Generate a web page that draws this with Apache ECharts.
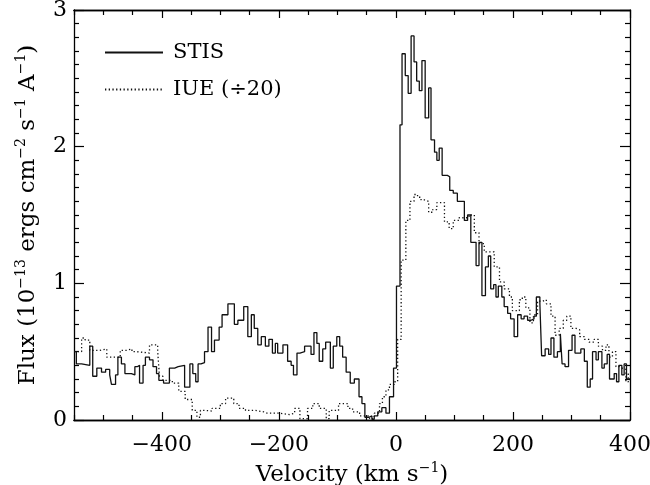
<!DOCTYPE html>
<html>
<head>
<meta charset="utf-8">
<script src="https://cdn.jsdelivr.net/npm/echarts@6/dist/echarts.min.js"></script>
<style>html,body{margin:0;padding:0;background:#fff}#c{width:650px;height:485px}</style>
</head>
<body>
<div id="c"></div>
<script>
// STIS: bin start velocity (km/s) and flux (1e-13 erg cm^-2 s^-1 A^-1)
const stisVel = [-550,-546,-537,-523,-518,-511,-503,-496,-489,-486,-479,-475,-469,-463,-452,-446,-442,-438,-432,-428,-421,-415,-409,-405,-397,-387,-378,-372,-361,-352,-347,-342,-338,-333,-327,-321,-315,-310,-302,-297,-287,-276,-270,-260,-253,-247,-242,-236,-230,-223,-217,-211,-206,-202,
-193,-185,-179,-175,-169,-164,-156,-145,-140,-135,-131,-125,-120,-112,-107,-101,-96,-91,-85,-78,-71,-63,-58,-53,-46,-41,-37,-31,-24,-17,-11,-4,1,7,10.5,16,21,26,31,35.5,40,44.5,50,56,60,66,70,74,79,88,92,98,105,
117,122.5,128,137,142,147,153,158,162,167,171,175,181,185,191,196,202,208,214,219,225,231,236,240,246,249,255,261,265,270,276,281,284,289,295,301,306,316,322,327,332,336,342,346,352,356,361,365,373,377,381,386,390,394,400];
const stisFlux = [0.50,0.41,0.40,0.54,0.32,0.38,0.35,0.37,0.33,0.26,0.33,0.46,0.41,0.34,0.33,0.39,0.40,0.27,0.40,0.46,0.44,0.39,0.34,0.29,0.27,0.38,0.39,0.40,0.24,0.41,0.34,0.28,0.41,0.42,0.50,0.68,0.50,0.585,0.68,0.77,0.85,0.70,0.73,0.83,0.61,0.77,0.67,0.55,0.61,0.54,0.59,0.49,0.56,0.49,
0.55,0.43,0.40,0.33,0.49,0.50,0.54,0.48,0.64,0.56,0.43,0.52,0.57,0.38,0.54,0.61,0.54,0.46,0.35,0.27,0.30,0.17,0.12,0.02,0.03,0.005,0.03,0.06,0.09,0.05,0.17,0.38,0.98,2.16,2.68,2.52,2.39,2.81,2.62,2.48,2.41,2.63,2.21,2.43,2.05,1.96,1.90,1.99,1.79,1.78,1.68,1.66,1.60,
1.46,1.50,1.30,1.13,1.30,0.91,1.12,1.20,0.96,0.99,0.90,0.98,0.90,0.83,0.78,0.74,0.61,0.77,0.74,0.76,0.73,0.74,0.76,0.90,0.85,0.47,0.52,0.48,0.60,0.46,0.50,0.63,0.41,0.39,0.51,0.62,0.49,0.52,0.43,0.24,0.30,0.50,0.44,0.50,0.38,0.41,0.48,0.30,0.34,0.28,0.40,0.33,0.41,0.30,0.30];

// IUE (divided by 20)
const iueVel = [-550,-537,-531,-523,-506,-494,-471,-460,-451,-443,-421,-407,-404,-398,-382,-371,-360,-348,-340,-334,-326,-314,-300,-291,-277,-268,-257,-240,-226,-220,
-199,-182,-173,-164,-151,-142,-131,-119,-114,-98,-82,-74,-62,-45,-37,-28,-23,-17,-11,-3,3,9,17,
24,31,37,43,49,56,63,70,83,91,98,
108,125,134,142,151,168,177,185,194,199,211,216,222,229,235,242,251,257,265,272,279,286,292,299,308,314,322,330,339,346,353,359,364,370,376,382,387,393,397,400];
const iueFlux = [0.50,0.60,0.585,0.51,0.52,0.46,0.51,0.52,0.50,0.49,0.55,0.50,0.32,0.29,0.27,0.21,0.15,0.07,0.02,0.07,0.065,0.085,0.12,0.16,0.12,0.085,0.07,0.06,0.05,0.05,
0.04,0.05,0.085,0.01,0.085,0.12,0.085,0.01,0.07,0.12,0.085,0.06,0.03,0.01,0.05,0.12,0.17,0.22,0.26,0.28,0.59,1.17,1.46,
1.60,1.65,1.63,1.61,1.60,1.52,1.54,1.59,1.45,1.40,1.46,
1.48,1.50,1.37,1.29,1.23,1.12,1.01,0.96,0.90,0.80,0.88,0.90,0.82,0.71,0.77,0.87,0.88,0.85,0.76,0.62,0.67,0.73,0.76,0.67,0.66,0.61,0.59,0.57,0.59,0.54,0.51,0.55,0.46,0.50,0.39,0.38,0.37,0.28,0.34,0.34];

const xMajor = [-400,-200,0,200,400];
const xMinor = [-550,-500,-450,-350,-300,-250,-150,-100,-50,50,100,150,250,300,350];
const yTicks = [0,1,2,3];

const FONT = 'DejaVu Serif';
const INK = '#000';
const pair = (xs, ys) => xs.map((x, i) => [x, ys[i]]);
const fmtX = v => (v < 0 ? '\u2212' + Math.abs(v) : String(v));

const rich = {
  s: {fontSize: 14, fontFamily: FONT, color: INK, lineHeight: 13, verticalAlign: 'top'}
};

function xAx(pos, values, len, withLabel, withName) {
  const a = {
    type: 'value', min: -550, max: 400, position: pos,
    splitLine: {show: false},
    axisLine: {show: true, onZero: false, lineStyle: {color: INK, width: 1.3}},
    axisTick: {show: true, inside: true, length: len, customValues: values, lineStyle: {color: INK, width: 1.2}},
    axisLabel: withLabel ? {show: true, customValues: xMajor, formatter: fmtX, margin: 14,
      fontSize: 22, fontFamily: FONT, color: INK,
      align: 'center'} : {show: false}
  };
  if (withName) {
    a.name = 'Velocity (km s{s|\u22121})';
    a.nameLocation = 'middle';
    a.nameGap = 35;
    a.nameTextStyle = {fontSize: 23, fontFamily: FONT, color: INK, lineHeight: 28, rich: rich};
  }
  return a;
}
function yAx(pos, withLabel) {
  const a = {
    type: 'value', min: 0, max: 3, interval: 1, position: pos,
    splitLine: {show: false},
    axisLine: {show: true, onZero: false, lineStyle: {color: INK, width: 1.3}},
    axisTick: {show: true, inside: true, length: 10, lineStyle: {color: INK, width: 1.2}},
    minorTick: {show: true, splitNumber: 10, length: 5, lineStyle: {color: INK, width: 1.2}},
    axisLabel: withLabel ? {show: true, margin: 7, fontSize: 22, fontFamily: FONT, color: INK,
      formatter: v => (yTicks.indexOf(v) >= 0 ? String(v) : '')} : {show: false}
  };
  if (withLabel) {
    a.name = 'Flux (10{s|\u221213} ergs cm{s|\u22122} s{s|\u22121} A{s|\u22121})';
    a.nameLocation = 'middle';
    a.nameGap = 30;
    a.nameTextStyle = {fontSize: 23, fontFamily: FONT, color: INK, lineHeight: 28, rich: rich};
  }
  return a;
}

const legendBase = {
  left: 99, orient: 'vertical', itemWidth: 58, itemHeight: 14, selectedMode: false,
  itemStyle: {opacity: 0, borderWidth: 0},
  textStyle: {fontSize: 21, fontFamily: FONT, color: INK, padding: [0, 0, 0, 5]}
};

const chart = echarts.init(document.getElementById('c'), null, {renderer: 'canvas'});
chart.setOption({
  animation: false,
  backgroundColor: '#fff',
  grid: {left: 74, right: 20, top: 10, bottom: 65, containLabel: false, outerBoundsMode: 'none'},
  xAxis: [
    xAx('bottom', xMajor, 8, true, true),
    xAx('bottom', xMinor, 5, false, false),
    xAx('top', xMajor, 8, false, false),
    xAx('top', xMinor, 5, false, false)
  ],
  yAxis: [yAx('left', true), yAx('right', false)],
  legend: [
    Object.assign({}, legendBase, {data: ['STIS'], top: 37}),
    Object.assign({}, legendBase, {data: ['IUE (\u00f720)'], top: 74})
  ],
  series: [
    {name: 'STIS', type: 'line', step: 'end', xAxisIndex: 0, yAxisIndex: 0, symbol: 'none', clip: true,
     lineStyle: {color: '#111', width: 1.3}, itemStyle: {color: '#111'}, data: pair(stisVel, stisFlux), z: 3},
    {name: 'IUE (\u00f720)', type: 'line', step: 'end', xAxisIndex: 0, yAxisIndex: 0, symbol: 'none', clip: true,
     lineStyle: {color: '#111', width: 1.3, type: [1.3, 2.4]}, itemStyle: {color: '#111'}, data: pair(iueVel, iueFlux), z: 2}
  ]
});
</script>
</body>
</html>
